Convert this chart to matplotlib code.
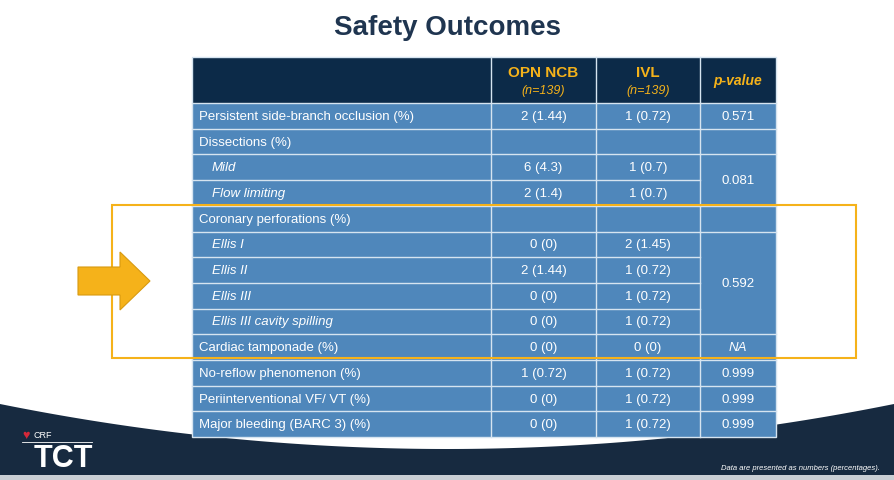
import matplotlib
matplotlib.use("Agg")
import matplotlib.pyplot as plt
import numpy as np
from matplotlib.patches import Rectangle, Polygon

plt.rcParams['font.family'] = ['Liberation Sans', 'DejaVu Sans']

# --- table data ---
row_labels = ["Persistent side-branch occlusion (%)", "Dissections (%)", "Mild", "Flow limiting",
              "Coronary perforations (%)", "Ellis I", "Ellis II", "Ellis III",
              "Ellis III cavity spilling", "Cardiac tamponade (%)", "No-reflow phenomenon (%)",
              "Periinterventional VF/ VT (%)", "Major bleeding (BARC 3) (%)"]
sub_rows = [2, 3, 5, 6, 7, 8]
opn_ncb = ["2 (1.44)", "", "6 (4.3)", "2 (1.4)", "", "0 (0)", "2 (1.44)", "0 (0)", "0 (0)",
           "0 (0)", "1 (0.72)", "0 (0)", "0 (0)"]
ivl = ["1 (0.72)", "", "1 (0.7)", "1 (0.7)", "", "2 (1.45)", "1 (0.72)", "1 (0.72)", "1 (0.72)",
       "0 (0)", "1 (0.72)", "1 (0.72)", "1 (0.72)"]
# p-values as (first row, last row, text)
p_values = [(0, 0, "0.571"), (1, 1, ""), (2, 3, "0.081"), (4, 4, ""), (5, 8, "0.592"),
            (9, 9, "NA"), (10, 10, "0.999"), (11, 11, "0.999"), (12, 12, "0.999")]
headers = [("OPN NCB", "(n=139)"), ("IVL", "(n=139)")]

NAVY = "#0c2a48"
CELL = "#4f87bb"
LINE = "#d6e4f0"
ORANGE = "#f5b21a"

fig = plt.figure(figsize=(8.94, 4.81), dpi=100)
ax = fig.add_axes([0, 0, 1, 1])
ax.set_xlim(0, 894)
ax.set_ylim(481, 0)
ax.axis("off")
fig.patch.set_facecolor("white")

# bottom dark band with curved top
xs = np.linspace(0, 894, 200)
top = 450 - 45 * ((xs - 447) / 447) ** 2
ax.add_patch(Polygon(np.column_stack([np.r_[xs, 894, 0], np.r_[top, 476, 476]]),
                     closed=True, fc="#172a40", ec="none", zorder=1))
ax.add_patch(Rectangle((0, 476), 894, 5, fc="#c9ced4", ec="none", zorder=1))

ax.text(447, 28, "Safety Outcomes", ha="center", va="center", fontsize=20,
        fontweight="bold", color="#1f3550", zorder=5)

cols = [192, 491, 596, 700, 776]
y0, hh, rh = 58, 46, 25.7
ax.add_patch(Rectangle((cols[0], y0), cols[-1] - cols[0], hh + rh * len(row_labels),
                       fc=CELL, ec="none", zorder=2))
ax.add_patch(Rectangle((cols[0], y0), cols[-1] - cols[0], hh, fc=NAVY, ec="none", zorder=2))

for j, (h1, h2) in enumerate(headers):
    cx = (cols[j + 1] + cols[j + 2]) / 2
    ax.text(cx, y0 + 15, h1, ha="center", va="center", fontsize=11, fontweight="bold",
            color=ORANGE, zorder=5)
    ax.text(cx, y0 + 33, h2, ha="center", va="center", fontsize=9, style="italic",
            color=ORANGE, zorder=5)
ax.text((cols[3] + cols[4]) / 2, y0 + 23, "p-value", ha="center", va="center", fontsize=10,
        fontweight="bold", style="italic", color=ORANGE, zorder=5)

yt = y0 + hh
for i, lab in enumerate(row_labels):
    yc = yt + rh * (i + 0.5)
    sub = i in sub_rows
    ax.text(cols[0] + (20 if sub else 7), yc, lab, ha="left", va="center", fontsize=9.5,
            color="white", style="italic" if sub else "normal", zorder=5)
    ax.text((cols[1] + cols[2]) / 2, yc, opn_ncb[i], ha="center", va="center", fontsize=9.5,
            color="white", zorder=5)
    ax.text((cols[2] + cols[3]) / 2, yc, ivl[i], ha="center", va="center", fontsize=9.5,
            color="white", zorder=5)
    ax.plot([cols[0], cols[3]], [yt + rh * i] * 2, color=LINE, lw=1, zorder=3)

for a, b, txt in p_values:
    ya, yb = yt + rh * a, yt + rh * (b + 1)
    ax.plot([cols[3], cols[4]], [ya, ya], color=LINE, lw=1, zorder=3)
    ax.text((cols[3] + cols[4]) / 2, (ya + yb) / 2, txt, ha="center", va="center",
            fontsize=9.5, color="white", style="italic" if txt == "NA" else "normal", zorder=5)

ybot = yt + rh * len(row_labels)
for x in cols[1:-1]:
    ax.plot([x, x], [y0, ybot], color=LINE, lw=1, zorder=3)
ax.add_patch(Rectangle((cols[0], y0), cols[-1] - cols[0], ybot - y0, fc="none",
                       ec=LINE, lw=1, zorder=3))

# orange highlight frame and arrow
ax.add_patch(Rectangle((112, 206), 744, 153, fc="none", ec=ORANGE, lw=1.5, zorder=4))
ax.add_patch(Polygon([(78, 268), (120, 268), (120, 253), (150, 282), (120, 311),
                      (120, 296), (78, 296)], closed=True, fc=ORANGE, ec="#d89a10",
                     lw=0.8, zorder=4))

# logos / footnote
ax.text(22, 436, "\u2665", ha="left", va="center", fontsize=9, color="#d62839", zorder=5)
ax.text(33, 436, "CRF", ha="left", va="center", fontsize=6.5, color="white", zorder=5)
ax.plot([22, 92], [443, 443], color="white", lw=0.6, zorder=5)
ax.text(34, 459, "TCT", ha="left", va="center", fontsize=22, fontweight="bold",
        color="white", zorder=5)
ax.text(880, 469, "Data are presented as numbers (percentages).", ha="right", va="center",
        fontsize=5.5, style="italic", color="white", zorder=5)

fig.savefig("out.png", dpi=100)
